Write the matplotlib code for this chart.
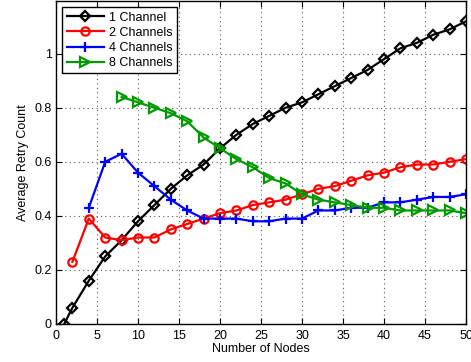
import matplotlib
matplotlib.use("Agg")
import matplotlib.pyplot as plt

plt.rcParams['font.family'] = ['Liberation Sans', 'DejaVu Sans']
plt.rcParams['font.size'] = 9

x1 = [1, 2, 4, 6, 8, 10, 12, 14, 16, 18, 20, 22, 24, 26, 28, 30, 32, 34, 36, 38, 40, 42, 44, 46, 48, 50]
y1 = [0.0, 0.06, 0.16, 0.25, 0.31, 0.38, 0.44, 0.50, 0.55, 0.59, 0.65, 0.70, 0.74, 0.77, 0.80, 0.82,
      0.85, 0.88, 0.91, 0.94, 0.98, 1.02, 1.04, 1.07, 1.09, 1.12]

x2 = [2, 4, 6, 8, 10, 12, 14, 16, 18, 20, 22, 24, 26, 28, 30, 32, 34, 36, 38, 40, 42, 44, 46, 48, 50]
y2 = [0.23, 0.39, 0.32, 0.31, 0.32, 0.32, 0.35, 0.37, 0.39, 0.41, 0.42, 0.44, 0.45, 0.46, 0.48,
      0.50, 0.51, 0.53, 0.55, 0.56, 0.58, 0.59, 0.59, 0.60, 0.61]

x4 = [4, 6, 8, 10, 12, 14, 16, 18, 20, 22, 24, 26, 28, 30, 32, 34, 36, 38, 40, 42, 44, 46, 48, 50]
y4 = [0.43, 0.60, 0.63, 0.56, 0.51, 0.46, 0.42, 0.39, 0.39, 0.39, 0.38, 0.38, 0.39, 0.39,
      0.42, 0.42, 0.43, 0.43, 0.45, 0.45, 0.46, 0.47, 0.47, 0.48]

x8 = [8, 10, 12, 14, 16, 18, 20, 22, 24, 26, 28, 30, 32, 34, 36, 38, 40, 42, 44, 46, 48, 50]
y8 = [0.84, 0.82, 0.80, 0.78, 0.75, 0.69, 0.65, 0.61, 0.58, 0.54, 0.52, 0.48, 0.46, 0.45,
      0.44, 0.43, 0.43, 0.42, 0.42, 0.42, 0.42, 0.41]

labels = ['1 Channel', '2 Channels', '4 Channels', '8 Channels']
xticks = [0, 5, 10, 15, 20, 25, 30, 35, 40, 45, 50]
yticks = [0, 0.2, 0.4, 0.6, 0.8, 1.0]
ytick_labels = ['0', '0.2', '0.4', '0.6', '0.8', '1']

fig = plt.figure(figsize=(4.71, 3.62), dpi=100)
ax = fig.add_axes([56/471, 38/362, 410/471, 323/362])

lw = 1.6
ax.plot(x1, y1, color='black', lw=lw, marker='D', ms=5, mfc='none', mew=1.6, label=labels[0])
ax.plot(x2, y2, color='red', lw=lw, marker='o', ms=6, mfc='none', mew=1.6, label=labels[1])
ax.plot(x4, y4, color='blue', lw=lw, marker='+', ms=6.5, mew=1.6, label=labels[2])
ax.plot(x8, y8, color='#009900', lw=lw, marker='>', ms=7, mfc='none', mew=1.6, label=labels[3])

ax.set_xlim(0, 50)
ax.set_ylim(0, 1.195)
ax.set_xticks(xticks)
ax.set_xticklabels([str(t) for t in xticks])
ax.set_yticks(yticks)
ax.set_yticklabels(ytick_labels)
ax.grid(True, linestyle=(0, (1, 3)), color='0.35', lw=0.8)
ax.tick_params(direction='in', top=True, right=True, length=4, width=0.8)
ax.tick_params(axis='x', pad=4)
ax.tick_params(axis='y', pad=3)
for s in ax.spines.values():
    s.set_linewidth(1.0)

ax.set_xlabel('Number of Nodes', labelpad=1)
ax.set_ylabel('Average Retry Count', labelpad=4)

leg = ax.legend(loc='upper left', fancybox=False, edgecolor='black', framealpha=1,
                handlelength=3.0, handletextpad=0.4, labelspacing=0.25,
                borderpad=0.35, borderaxespad=0.5)
leg.get_frame().set_linewidth(1.0)

fig.savefig('out.png', dpi=100)
